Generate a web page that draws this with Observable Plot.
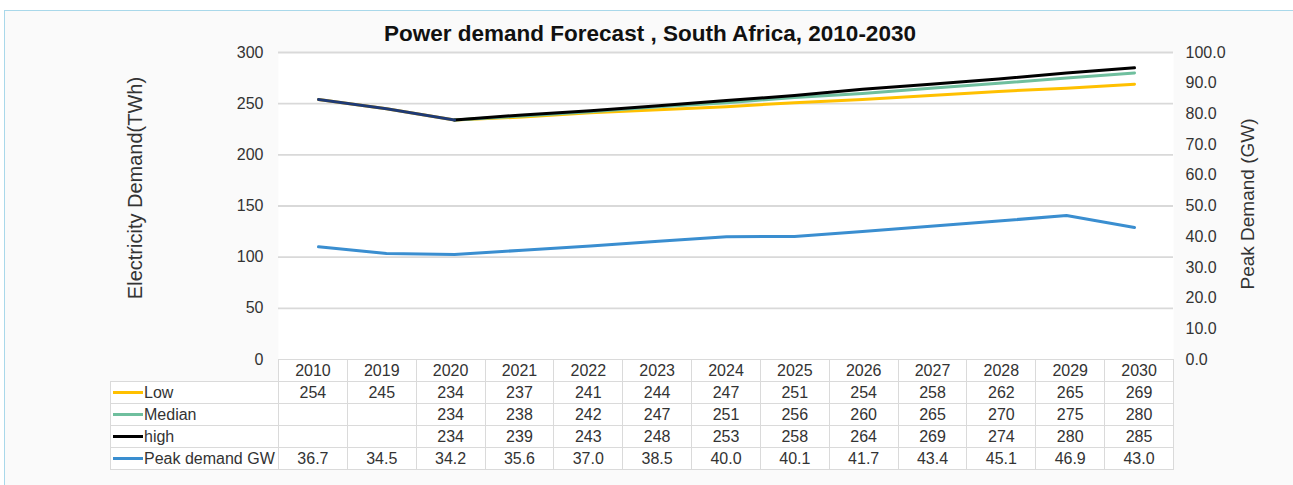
<!DOCTYPE html>
<html>
<head>
<meta charset="utf-8">
<script src="https://cdn.jsdelivr.net/npm/d3@7"></script>
<script src="https://cdn.jsdelivr.net/npm/@observablehq/plot@0.6"></script>
<style>
  body { margin: 0; background: #ffffff; font-family: "Liberation Sans", Arial, sans-serif; }
  #wrap { position: relative; width: 1293px; height: 485px; overflow: hidden; }
  #box { position: absolute; left: 4px; top: 10px; width: 1300px; height: 480px;
         border-top: 1px solid #a9d8ea; border-left: 1px solid #a9d8ea; background: #fafafa; }
  #chart { position: absolute; left: 0; top: 0; }
  #title { position: absolute; left: 0; top: 21px; width: 1300px; text-align: center; line-height: 26px;
           font-size: 22.5px; font-weight: bold; color: #111; }
  table { position: absolute; left: 110px; top: 359px; border-collapse: collapse; table-layout: fixed;
          font-size: 16px; color: #333; }
  td { border: 1.5px solid #dadada; height: 21px; padding: 0; text-align: center; background: #ffffff; white-space: nowrap; overflow: hidden; }
  td.blank { border: none; background: transparent; }
  td.leg { text-align: left; padding-left: 2px; }
  .sw { display: inline-block; width: 30px; height: 3px; vertical-align: middle; margin-right: 1px; position: relative; top: -1px; }
</style>
</head>
<body>
<div id="wrap">
  <div id="box"></div>
  <div id="chart"></div>
  <div id="title">Power demand Forecast , South Africa, 2010-2030</div>
  <table id="tbl"></table>
</div>
<script>
const years = ["2010","2019","2020","2021","2022","2023","2024","2025","2026","2027","2028","2029","2030"];
const low = [254,245,234,237,241,244,247,251,254,258,262,265,269];
const median = [null,null,234,238,242,247,251,256,260,265,270,275,280];
const high = [null,null,234,239,243,248,253,258,264,269,274,280,285];
const peak = [36.7,34.5,34.2,35.6,37.0,38.5,40.0,40.1,41.7,43.4,45.1,46.9,43.0];
const actual = [254,245,234,null,null,null,null,null,null,null,null,null,null];
const leftTicks = [0,50,100,150,200,250,300];
const rightTicks = [0,10,20,30,40,50,60,70,80,90,100];

const seriesNames = ["Low","Median","high","Peak demand GW"];
const seriesColors = ["#ffc000","#6fbf9e","#000000","#3a8ed0"];
const actualColor = "#1f3a74";

const rows = years.map((y, i) => ({year: y, low: low[i], median: median[i], high: high[i], peak: peak[i], actual: actual[i]}));
const k = 300 / 100; // right axis (GW) -> left axis (TWh)

const plot = Plot.plot({
  width: 1293,
  height: 370,
  marginTop: 52,
  marginBottom: 11,
  marginLeft: 278,
  marginRight: 120,
  style: {fontFamily: "'Liberation Sans', Arial, sans-serif", background: "transparent"},
  x: {type: "point", domain: years, padding: 0.5, axis: null},
  y: {domain: [0, 300]},
  marks: [
    Plot.frame({fill: "#ffffff", stroke: null}),
    Plot.gridY(leftTicks.filter(d => d > 0), {stroke: "#d9d9d9", strokeOpacity: 1, strokeWidth: 1.8}),
    Plot.axisY(leftTicks, {anchor: "left", tickSize: 0, tickPadding: 15, fontSize: 16, fill: "#333", label: null}),
    Plot.axisY(rightTicks, {anchor: "right", y: d => d * k, tickSize: 0, tickPadding: 12, fontSize: 16, fill: "#333",
      tickFormat: d => d.toFixed(1), label: null}),
    Plot.text(["Electricity Demand(TWh)"], {frameAnchor: "left", textAnchor: "middle", lineAnchor: "middle",
      dx: -143, dy: -18, rotate: -90, fontSize: 20, fill: "#333"}),
    Plot.text(["Peak Demand (GW)"], {frameAnchor: "right", textAnchor: "middle", lineAnchor: "middle",
      dx: 74, dy: -2, rotate: -90, fontSize: 19, fill: "#333"}),
    Plot.line(rows, {x: "year", y: d => d.peak * k, stroke: seriesColors[3], strokeWidth: 3}),
    Plot.line(rows, {x: "year", y: "low", stroke: seriesColors[0], strokeWidth: 3}),
    Plot.line(rows, {x: "year", y: "median", stroke: seriesColors[1], strokeWidth: 3}),
    Plot.line(rows, {x: "year", y: "high", stroke: seriesColors[2], strokeWidth: 3}),
    Plot.line(rows, {x: "year", y: "actual", stroke: actualColor, strokeWidth: 3})
  ]
});
document.getElementById("chart").appendChild(plot);

// data table
const tbl = document.getElementById("tbl");
const colg = document.createElement("colgroup");
const c0 = document.createElement("col"); c0.style.width = "168px"; colg.appendChild(c0);
years.forEach(() => { const c = document.createElement("col"); c.style.width = (895 / years.length) + "px"; colg.appendChild(c); });
tbl.appendChild(colg);
const hdr = document.createElement("tr");
const b = document.createElement("td"); b.className = "blank"; hdr.appendChild(b);
years.forEach(y => { const td = document.createElement("td"); td.textContent = y; hdr.appendChild(td); });
tbl.appendChild(hdr);
const vals = [low, median, high, peak];
vals.forEach((arr, si) => {
  const tr = document.createElement("tr");
  const lab = document.createElement("td"); lab.className = "leg";
  const sw = document.createElement("span"); sw.className = "sw"; sw.style.background = seriesColors[si];
  lab.appendChild(sw); lab.appendChild(document.createTextNode(seriesNames[si]));
  tr.appendChild(lab);
  arr.forEach(v => {
    const td = document.createElement("td");
    td.textContent = v == null ? "" : (si === 3 ? v.toFixed(1) : String(v));
    tr.appendChild(td);
  });
  tbl.appendChild(tr);
});
</script>
</body>
</html>
